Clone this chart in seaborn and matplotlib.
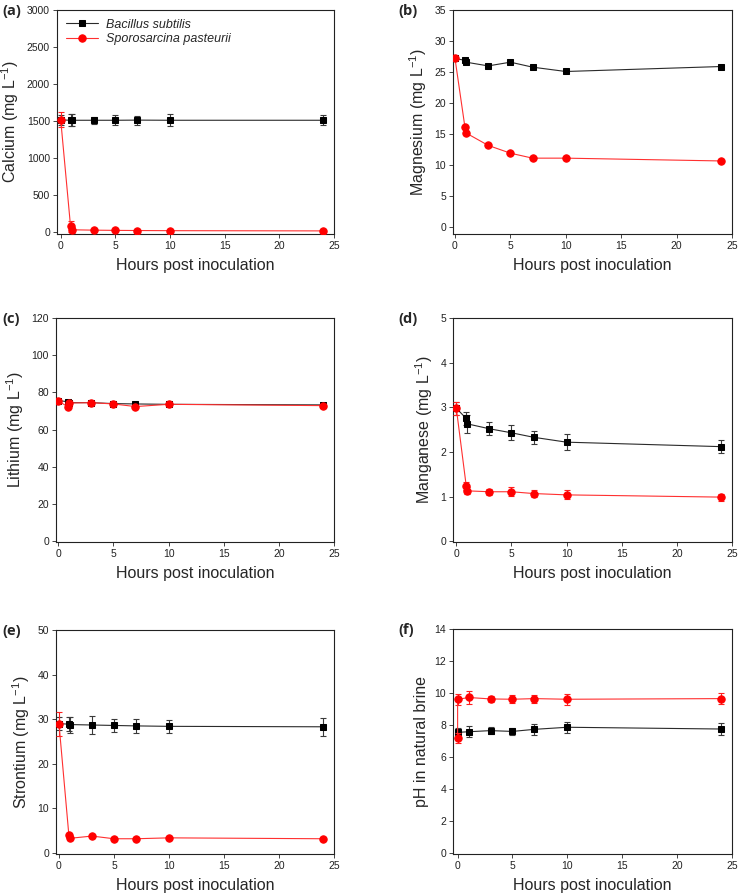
import seaborn as sns
import matplotlib.pyplot as plt
import pandas as pd

sns.set_style("ticks")
plt.rcParams['font.family'] = ['Liberation Sans', 'DejaVu Sans']
plt.rcParams['mathtext.default'] = 'regular'

# time points (hours)
hours = [0, 0.9, 1, 3, 5, 7, 10, 24]
hours_ph_bs = [0, 1, 3, 5, 7, 10, 24]
hours_ph_sp = [0, 0, 1, 3, 5, 7, 10, 24]

# calcium
ca_bs = [1515, 1510, 1510, 1510, 1510, 1512, 1510, 1510]
ca_bs_err = [70, 80, 80, 50, 70, 60, 80, 70]
ca_sp = [1515, 75, 30, 25, 22, 20, 18, 15]
ca_sp_err = [100, 70, 40, 20, 15, 10, 10, 10]
# magnesium
mg_bs = [27.2, 26.9, 26.6, 26.0, 26.6, 25.8, 25.1, 25.9]
mg_bs_err = [0.3, 0.3, 0.3, 0.3, 0.3, 0.2, 0.2, 0.2]
mg_sp = [27.2, 16.1, 15.2, 13.2, 11.95, 11.15, 11.15, 10.7]
mg_sp_err = [0.3, 0.3, 0.3, 0.2, 0.2, 0.2, 0.2, 0.2]
# lithium
li_bs = [75.6, 75.0, 74.5, 74.5, 74.0, 73.8, 73.6, 73.3]
li_bs_err = [0.8, 0.8, 0.8, 0.8, 0.8, 0.8, 0.8, 0.8]
li_sp = [75.4, 72.2, 74.3, 74.5, 73.8, 72.4, 73.6, 72.9]
li_sp_err = [0.8, 0.8, 0.8, 0.8, 0.8, 0.8, 0.8, 0.8]
# manganese
mn_bs = [2.98, 2.75, 2.63, 2.52, 2.43, 2.33, 2.22, 2.12]
mn_bs_err = [0.15, 0.15, 0.2, 0.15, 0.17, 0.15, 0.18, 0.15]
mn_sp = [2.98, 1.24, 1.13, 1.11, 1.11, 1.07, 1.04, 0.99]
mn_sp_err = [0.15, 0.08, 0.08, 0.07, 0.1, 0.08, 0.1, 0.08]
# strontium
sr_bs = [29.0, 28.9, 28.8, 28.7, 28.6, 28.5, 28.4, 28.3]
sr_bs_err = [1.5, 1.5, 1.8, 2.0, 1.5, 1.5, 1.5, 2.0]
sr_sp = [29.0, 4.0, 3.3, 3.8, 3.2, 3.2, 3.4, 3.2]
sr_sp_err = [2.7, 0.3, 0.3, 0.3, 0.3, 0.3, 0.3, 0.3]
# pH
ph_bs = [7.54, 7.58, 7.65, 7.6, 7.73, 7.86, 7.75]
ph_bs_err = [0.3, 0.35, 0.2, 0.2, 0.35, 0.35, 0.35]
ph_sp = [7.2, 9.6, 9.72, 9.63, 9.61, 9.65, 9.61, 9.65]
ph_sp_err = [0.3, 0.35, 0.4, 0.2, 0.25, 0.25, 0.35, 0.35]

panels = [
    ("(a)", "Calcium (mg L$^{-1}$)", hours, ca_bs, ca_bs_err, hours, ca_sp, ca_sp_err,
     (-27, 3000), [0, 500, 1000, 1500, 2000, 2500, 3000], -0.34),
    ("(b)", "Magnesium (mg L$^{-1}$)", hours, mg_bs, mg_bs_err, hours, mg_sp, mg_sp_err,
     (-1.06, 35), [0, 5, 10, 15, 20, 25, 30, 35], -0.18),
    ("(c)", "Lithium (mg L$^{-1}$)", hours, li_bs, li_bs_err, hours, li_sp, li_sp_err,
     (-0.4, 120), [0, 20, 40, 60, 80, 100, 120], -0.2),
    ("(d)", "Manganese (mg L$^{-1}$)", hours, mn_bs, mn_bs_err, hours, mn_sp, mn_sp_err,
     (-0.015, 5), [0, 1, 2, 3, 4, 5], -0.3),
    ("(e)", "Strontium (mg L$^{-1}$)", hours, sr_bs, sr_bs_err, hours, sr_sp, sr_sp_err,
     (-0.22, 50), [0, 10, 20, 30, 40, 50], -0.27),
    ("(f)", "pH in natural brine", hours_ph_bs, ph_bs, ph_bs_err, hours_ph_sp, ph_sp, ph_sp_err,
     (-0.06, 14), [0, 2, 4, 6, 8, 10, 12, 14], -0.42),
]

W, H = 738, 893
# axes boxes in pixels: left, right, top, bottom
boxes = [(57, 334, 10, 234), (453, 732, 10, 234),
         (56, 334, 318, 542), (453, 732, 318, 542),
         (56, 334, 630, 854), (453, 732, 629, 854)]
label_x = [2, 398, 2, 398, 2, 398]

fig = plt.figure(figsize=(7.38, 8.93), dpi=100)

for i, p in enumerate(panels):
    tag, ylab, xb, yb, eb, xs, ys, es, ylim, yticks, xmin = p
    l, r, t, b = boxes[i]
    ax = fig.add_axes([l / W, 1 - b / H, (r - l) / W, (b - t) / H])

    df_b = pd.DataFrame({"h": xb, "v": yb})
    df_s = pd.DataFrame({"h": xs, "v": ys})

    ax.errorbar(xb, yb, yerr=eb, fmt='none', ecolor='#3a3a3a', elinewidth=0.8,
                capsize=2.5, capthick=0.8, zorder=2)
    sns.lineplot(data=df_b, x="h", y="v", ax=ax, color='#2a2a2a', linewidth=0.8,
                 marker='s', markersize=4.8, markerfacecolor='black',
                 markeredgecolor='black', estimator=None, sort=False,
                 label='Bacillus subtilis', zorder=3)
    ax.errorbar(xs, ys, yerr=es, fmt='none', ecolor='#ff2020', elinewidth=0.8,
                capsize=2.5, capthick=0.8, zorder=4)
    sns.lineplot(data=df_s, x="h", y="v", ax=ax, color='#ff3030', linewidth=0.8,
                 marker='o', markersize=5.3, markerfacecolor='#ff0000',
                 markeredgecolor='#ff0000', estimator=None, sort=False,
                 label='Sporosarcina pasteurii', zorder=5)

    ax.set_xlim(xmin, 25)
    ax.set_ylim(*ylim)
    ax.set_xticks([0, 5, 10, 15, 20, 25])
    ax.set_yticks(yticks)
    ax.tick_params(direction='out', length=3, width=0.6, labelsize=7.5,
                   labelcolor='#222222', pad=2)
    for s in ax.spines.values():
        s.set_visible(True)
        s.set_linewidth(0.8)
        s.set_color('#222222')
    ax.set_xlabel("Hours post inoculation", fontsize=11.5, labelpad=5)
    ax.set_ylabel(ylab, fontsize=11.5, labelpad=4)

    if i == 0:
        leg = ax.legend(loc='upper left', frameon=False, fontsize=9,
                        handlelength=2.6, borderaxespad=0.3, labelspacing=0.2,
                        handletextpad=0.6, bbox_to_anchor=(0.0, 1.0))
        for txt in leg.get_texts():
            txt.set_fontstyle('italic')
    else:
        ax.get_legend().remove()

    fig.text(label_x[i] / W, 1 - (t + 1) / H, tag, fontsize=10.5, fontweight='bold',
             ha='left', va='center', family=['Open Sans', 'DejaVu Sans'])

plt.savefig('out.png', dpi=100)
